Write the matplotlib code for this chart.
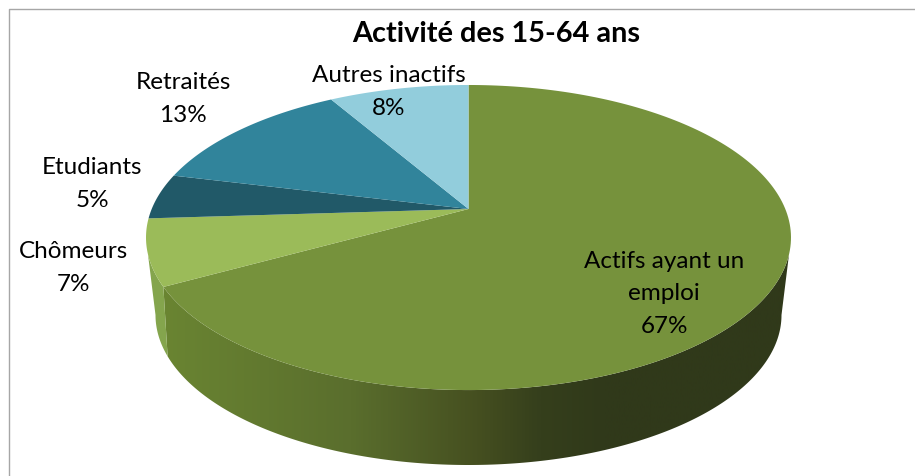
import numpy as np
import matplotlib
matplotlib.use("Agg")
import matplotlib.pyplot as plt
from matplotlib.colors import LinearSegmentedColormap
from matplotlib.patches import Polygon

plt.rcParams["font.family"] = ["Lato", "DejaVu Sans"]

categories = ["Actifs ayant un\nemploi", "Chômeurs", "Etudiants", "Retraités", "Autres inactifs"]
shares = [67.0, 7.0, 4.8, 12.8, 8.4]
slice_colors = ["#76923c", "#9bbb59", "#215968", "#31849b", "#92cddc"]
label_xy = [(664, 294), (73, 268), (92, 184), (183, 99), (389, 92)]

# tilted pie, pixel units
CX, CY = 468.5, 210
A, B, K = 316.8, 147.2, 0.187
BOTTOM_CX, BOTTOM_CY, BOTTOM_RX, BOTTOM_RY = 468.5, 316, 313, 150
# where the side wall leaves the rim, as clockwise fractions of the disc
WALL_RIGHT, WALL_LEFT = 0.297, 0.703


def rim(start, stop, n=200):
    # clockwise fractions from the top of the disc, projected with perspective
    t = np.pi / 2 - 2 * np.pi * np.linspace(start, stop, n)
    den = 1 + K * np.sin(t)
    return CX + A * np.cos(t) / den, CY - B * np.sin(t) / den


def bottom_rim(start, stop, n=200):
    # same, on the lower edge of the side wall (angles measured on the ellipse)
    t = np.radians(np.linspace(start, stop, n))
    return BOTTOM_CX + BOTTOM_RX * np.cos(t), BOTTOM_CY + BOTTOM_RY * np.sin(t)


fig = plt.figure(figsize=(9.15, 4.77), dpi=100)
ax = fig.add_axes([0, 0, 1, 1])
ax.set_xlim(0, 915)
ax.set_ylim(477, 0)
ax.axis("off")

# chart frame
ax.plot([8.5, 8.5, 915], [477, 9.5, 9.5], color="#a6a6a6", lw=1)

bounds = np.cumsum([0] + shares) / sum(shares)

# side wall of the big slice, shaded left to right
wall_x, wall_y = rim(WALL_RIGHT, bounds[1])
low_x, low_y = bottom_rim(164, 0)
wall = Polygon(np.column_stack([np.r_[wall_x, low_x], np.r_[wall_y, low_y]]), fc="none", ec="none")
ax.add_patch(wall)
shade = LinearSegmentedColormap.from_list(
    "wall", [(0, "#6a8532"), (0.3, "#5a6e2d"), (0.5, "#454f20"), (0.6, "#353f1c"), (0.7, "#30391a"), (1, "#30391a")]
)
img = ax.imshow(np.linspace(0, 1, 512)[None, :], cmap=shade, extent=(160, 795, 477, 0), aspect="auto", zorder=1)
img.set_clip_path(wall)

# side wall of the light green slice
wall2_x, wall2_y = rim(bounds[1], WALL_LEFT)
low2_x, low2_y = bottom_rim(180, 164)
ax.add_patch(Polygon(np.column_stack([np.r_[wall2_x, low2_x], np.r_[wall2_y, low2_y]]),
                     fc="#84a54d", ec="none", zorder=1))

# top face
for i in range(len(shares)):
    x, y = rim(bounds[i], bounds[i + 1])
    ax.add_patch(Polygon(np.column_stack([np.r_[CX, x], np.r_[CY, y]]),
                         fc=slice_colors[i], ec="none", zorder=2))

for name, share, (x, y) in zip(categories, shares, label_xy):
    ax.text(x, y, f"{name}\n{share:.0f}%", ha="center", va="center", fontsize=17.5,
            linespacing=1.65, color="black", zorder=3)

ax.text(496.5, 34, "Activité des 15-64 ans", ha="center", va="center", fontsize=20.8,
        fontweight="bold", color="black", zorder=3)

fig.savefig("out.png", dpi=100)
